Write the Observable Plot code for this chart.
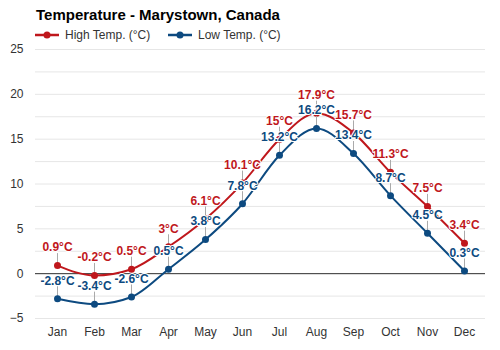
<!DOCTYPE html>
<html><head><meta charset="utf-8">
<script src="https://cdn.jsdelivr.net/npm/d3@7"></script>
<script src="https://cdn.jsdelivr.net/npm/@observablehq/plot@0.6"></script>
<style>
body{margin:0;background:#fff;font-family:"Liberation Sans",Arial,sans-serif;}
#wrap{width:500px;height:350px;position:relative;overflow:hidden;background:#fff}
#head{position:relative;height:40px}
#title{position:absolute;left:36px;top:5px;font-size:15px;font-weight:bold;color:#000;line-height:20px;white-space:nowrap}
.leg{position:absolute;top:27px;height:16px;display:flex;align-items:center;font-size:12px;color:#333;white-space:nowrap}
.leg svg{margin-right:6px}
#chart svg{display:block}
</style>
</head><body>
<div id="wrap">
  <div id="head">
    <div id="title">Temperature - Marystown, Canada</div>
    <div class="leg" id="legHigh" style="left:35px"></div>
    <div class="leg" id="legLow" style="left:168px"></div>
  </div>
  <div id="chart"></div>
</div>
<script>
const months = ["Jan","Feb","Mar","Apr","May","Jun","Jul","Aug","Sep","Oct","Nov","Dec"];
const highTemps = [0.9, -0.2, 0.5, 3, 6.1, 10.1, 15, 17.9, 15.7, 11.3, 7.5, 3.4];
const lowTemps = [-2.8, -3.4, -2.6, 0.5, 3.8, 7.8, 13.2, 16.2, 13.4, 8.7, 4.5, 0.3];
const seriesNames = ["High Temp. (°C)", "Low Temp. (°C)"];
const yTicks = [-5, 0, 5, 10, 15, 20, 25];
const gridTicks = [-5, -2.5, 0, 2.5, 5, 7.5, 10, 12.5, 15, 17.5, 20, 22.5, 25];

const highColor = "#bf171c";
const lowColor = "#0d4a80";

const highData = months.map((m, i) => ({month: m, value: highTemps[i]}));
const lowData = months.map((m, i) => ({month: m, value: lowTemps[i]}));

function legendItem(id, color, name) {
  const el = document.getElementById(id);
  el.innerHTML = `<svg width="24" height="10"><line x1="0" y1="5" x2="24" y2="5" stroke="${color}" stroke-width="2.5"/><circle cx="12" cy="5" r="3.5" fill="${color}"/></svg><span>${name}</span>`;
}
legendItem("legHigh", highColor, seriesNames[0]);
legendItem("legLow", lowColor, seriesNames[1]);

const fmt = d => `${d.value}°C`;

const lineMarks = (data, color) => [
  Plot.line(data, {x: "month", y: "value", stroke: color, strokeWidth: 2, curve: "monotone-x"})
];
const pointMarks = (data, color) => [
  Plot.ruleX(data, {x: "month", y1: "value", y2: "value", stroke: "#aaaaaa", strokeWidth: 1, insetTop: -12}),
  Plot.dot(data, {x: "month", y: "value", r: 3.5, fill: color})
];
const labelMarks = (data, color) => [
  Plot.text(data, {x: "month", y: "value", text: fmt, dy: -18, fill: color, stroke: "white", strokeWidth: 2, paintOrder: "stroke", fontWeight: "bold", fontSize: 12})
];

const chart = Plot.plot({
  width: 500,
  height: 310,
  marginTop: 9,
  marginBottom: 32,
  marginLeft: 35,
  marginRight: 15,
  style: {fontFamily: "'Liberation Sans', Arial, sans-serif", fontSize: "12px", color: "#333", background: "transparent", overflow: "visible"},
  x: {type: "point", domain: months, padding: 0.5, label: null, tickSize: 0, tickPadding: 9},
  y: {domain: [-5, 25], ticks: yTicks, label: null, tickSize: 0, tickPadding: 12},
  marks: [
    Plot.ruleY(gridTicks, {stroke: "#e6e6e6", strokeWidth: 1}),
    Plot.ruleY([0], {stroke: "#333", strokeWidth: 1}),
    ...lineMarks(highData, highColor),
    ...lineMarks(lowData, lowColor),
    ...pointMarks(highData, highColor),
    ...pointMarks(lowData, lowColor),
    ...labelMarks(highData, highColor),
    ...labelMarks(lowData, lowColor)
  ]
});
document.getElementById("chart").appendChild(chart);
</script>
</body></html>
